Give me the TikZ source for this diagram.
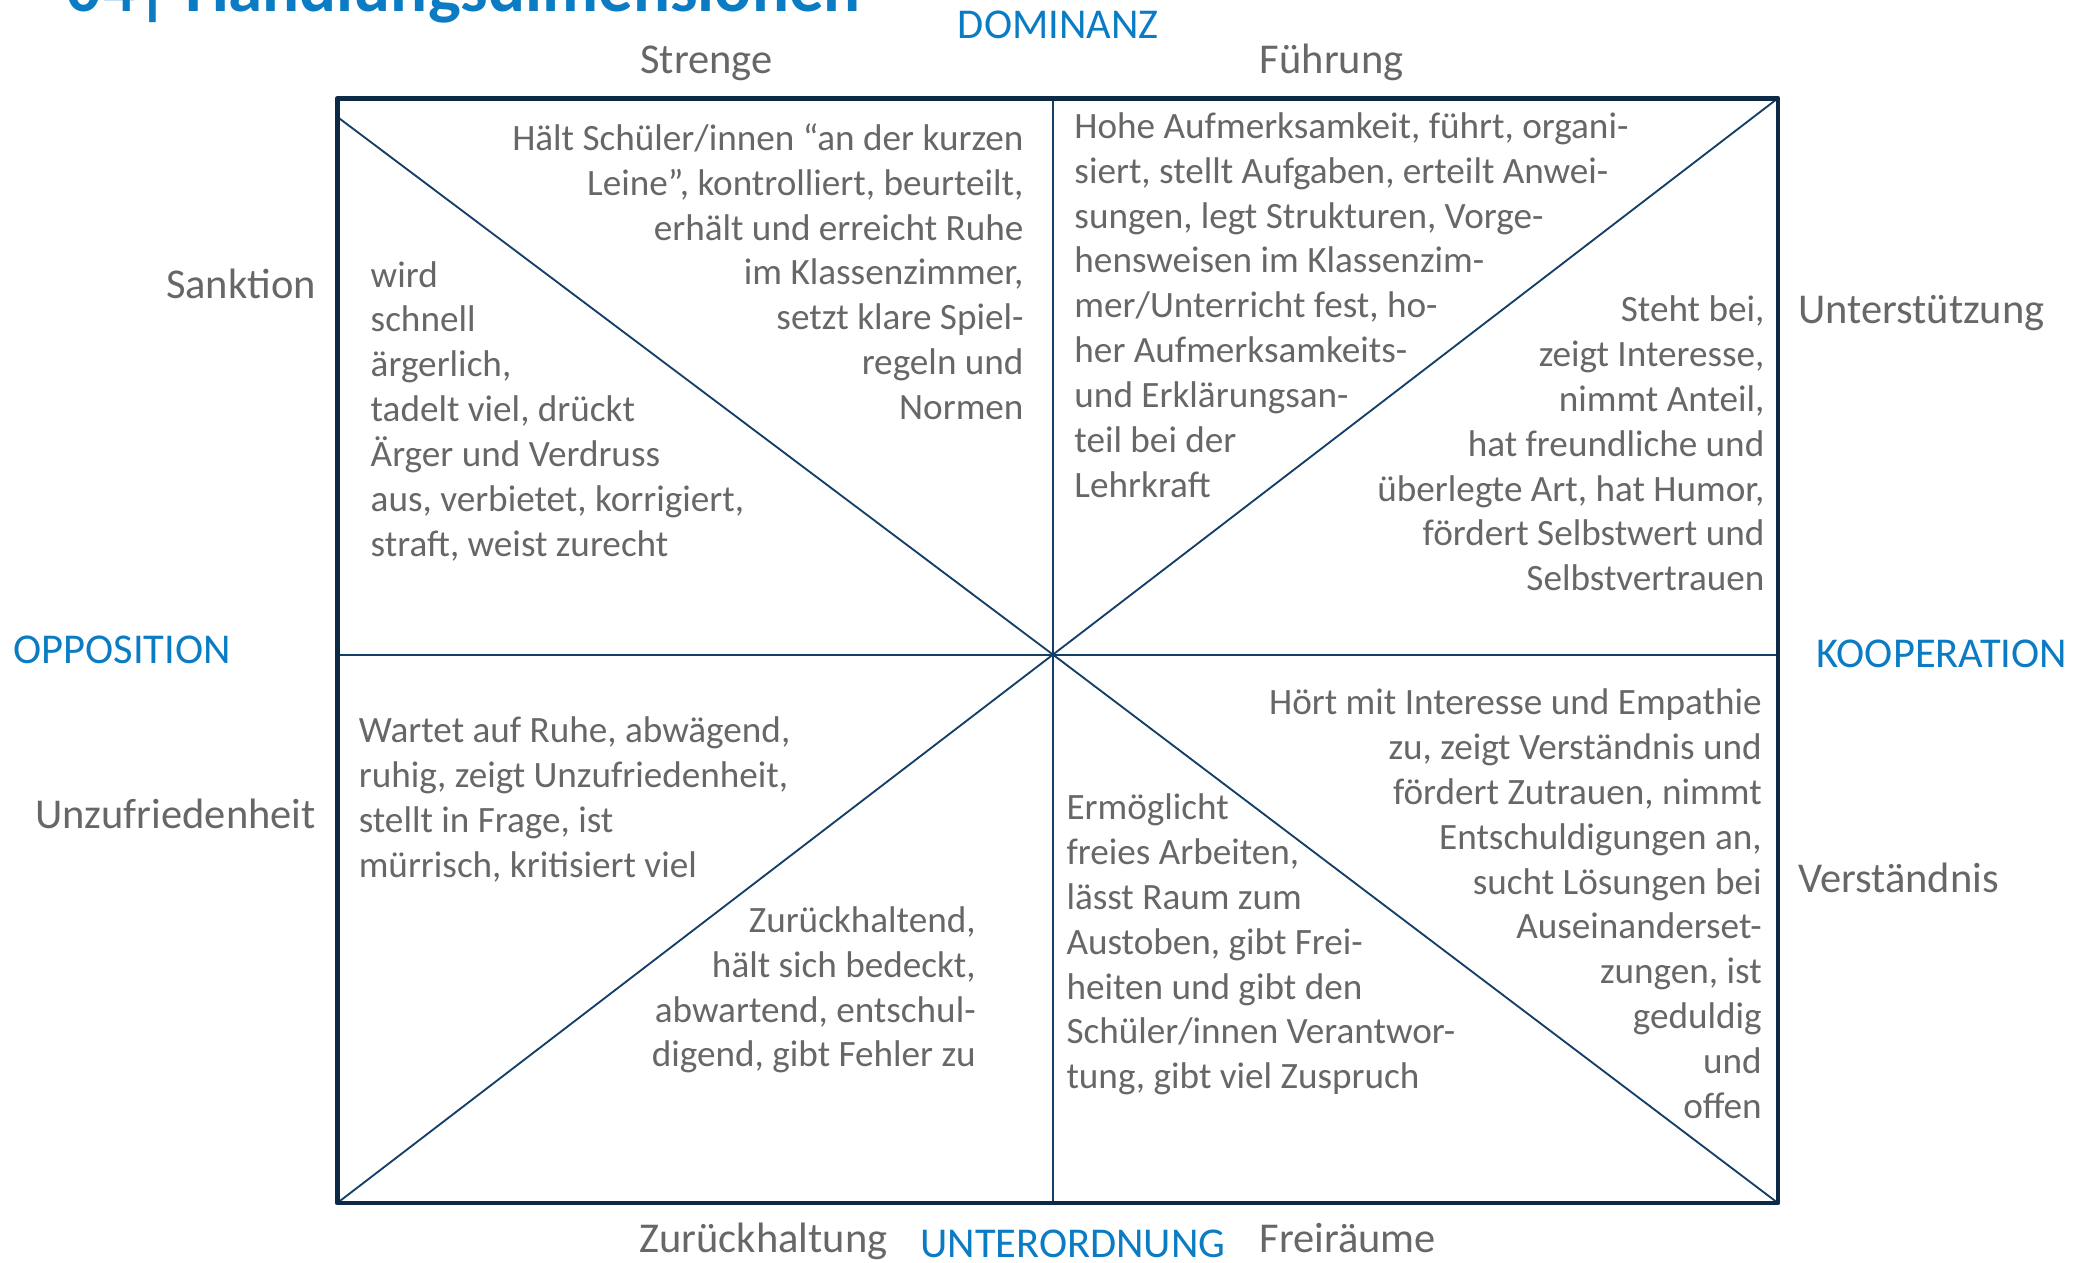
\documentclass[tikz,border=0pt]{standalone}
\usepackage{fontspec}
\setmainfont{Carlito}

\definecolor{navy}{HTML}{0C2A45}
\definecolor{linenavy}{HTML}{143F66}
\definecolor{txtgrey}{HTML}{676767}
\definecolor{dimblue}{HTML}{0B7CC4}

\tikzset{
  desc/.style={font=\fontsize{28}{33.8}\selectfont, text=txtgrey},
  pole/.style={font=\fontsize{32}{38.4}\selectfont, text=txtgrey},
  axis/.style={font=\fontsize{32}{38.4}\selectfont, text=dimblue},
  frame/.style={line width=3.5pt, color=navy, line join=round},
  divide/.style={line width=1.4pt, color=linenavy},
}

\begin{document}
\begin{tikzpicture}
[x=1pt, y=-1pt, every node/.style={inner sep=0pt}]
\useasboundingbox (0,0) rectangle (1568,951);
\node (title) [anchor=base west, font=\fontsize{52}{60}\selectfont\bfseries, text=dimblue] at (50,9) {04| Handlungsdimensionen};
% corners and middle of the field
\coordinate (tl) at (254,74);
\coordinate (tr) at (1339,74);
\coordinate (bl) at (254,906);
\coordinate (br) at (1339,906);
\coordinate (c) at (793,493);
\coordinate (t) at (793,74);
\coordinate (b) at (793,906);
\coordinate (l) at (254,493);
\coordinate (r) at (1339,493);
\coordinate (d1) at (254,88);
\draw [divide] (d1) -- (c) -- (br);
\draw [divide] (tr) -- (c) -- (bl);
\draw [divide] (t) -- (b);
\draw [divide] (l) -- (r);
\draw [frame] (tl) rectangle (br);
% axes
\node (dominanz) [axis, anchor=base] at (797,29) {DOMINANZ};
\node (unterordnung) [axis, anchor=base] at (808,947) {UNTERORDNUNG};
\node (opposition) [axis, anchor=base west] at (10,500) {OPPOSITION};
\node (kooperation) [axis, anchor=base west] at (1368,503) {KOOPERATION};
% poles
\node (strenge) [pole, anchor=base] at (532,55) {Strenge};
\node (fuehrung) [pole, anchor=base] at (1003,55) {Führung};
\node (sanktion) [pole, anchor=base east] at (238,225) {Sanktion};
\node (unterst) [pole, anchor=base west] at (1354,244) {Unterstützung};
\node (unzufr) [pole, anchor=base east] at (238,624) {Unzufriedenheit};
\node (verst) [pole, anchor=base west] at (1354,672) {Verständnis};
\node (zurueck) [pole, anchor=base] at (575,943) {Zurückhaltung};
\node (frei) [pole, anchor=base] at (1015,943) {Freiräume};
% descriptions
\node (t-strenge) [desc, anchor=north east, align=right] at (771,89.3)
  {\strut Hält Schüler/innen “an der kurzen\\Leine”, kontrolliert, beurteilt,\\erhält und erreicht Ruhe\\im Klassenzimmer,\\setzt klare Spiel-\\regeln und\\Normen};
\node (t-sanktion) [desc, anchor=north west, align=left] at (279,192.3)
  {\strut wird\\schnell\\ärgerlich,\\tadelt viel, drückt\\Ärger und Verdruss\\aus, verbietet, korrigiert,\\straft, weist zurecht};
\node (t-fuehrung) [desc, anchor=north west, align=left] at (809,80.3)
  {\strut Hohe Aufmerksamkeit, führt, organi-\\siert, stellt Aufgaben, erteilt Anwei-\\sungen, legt Strukturen, Vorge-\\hensweisen im Klassenzim-\\mer/Unterricht fest, ho-\\her Aufmerksamkeits-\\und Erklärungsan-\\teil bei der\\Lehrkraft};
\node (t-unterst) [desc, anchor=north east, align=right] at (1329,218.3)
  {\strut Steht bei,\\zeigt Interesse,\\nimmt Anteil,\\hat freundliche und\\überlegte Art, hat Humor,\\fördert Selbstwert und\\Selbstvertrauen};
\node (t-unzufr) [desc, anchor=north west, align=left] at (270,535.3)
  {\strut Wartet auf Ruhe, abwägend,\\ruhig, zeigt Unzufriedenheit,\\stellt in Frage, ist\\mürrisch, kritisiert viel};
\node (t-zurueck) [desc, anchor=north east, align=right] at (735,678.3)
  {\strut Zurückhaltend,\\hält sich bedeckt,\\abwartend, entschul-\\digend, gibt Fehler zu};
\node (t-frei) [desc, anchor=north west, align=left] at (803,593.3)
  {\strut Ermöglicht\\freies Arbeiten,\\lässt Raum zum\\Austoben, gibt Frei-\\heiten und gibt den\\Schüler/innen Verantwor-\\tung, gibt viel Zuspruch};
\node (t-verst) [desc, anchor=north east, align=right] at (1327,514.3)
  {\strut Hört mit Interesse und Empathie\\zu, zeigt Verständnis und\\fördert Zutrauen, nimmt\\Entschuldigungen an,\\sucht Lösungen bei\\Auseinanderset-\\zungen, ist\\geduldig\\und\\offen};
\end{tikzpicture}
\end{document}
